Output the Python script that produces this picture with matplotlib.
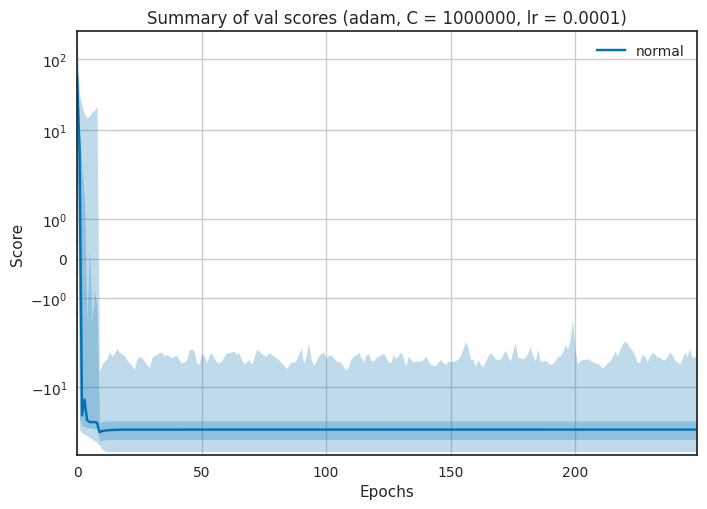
import numpy as np
import matplotlib
matplotlib.use("Agg")
import matplotlib.pyplot as plt

plt.rcParams.update({
    "font.family": "DejaVu Sans",
    "text.color": ".15",
    "axes.labelcolor": ".15",
    "axes.edgecolor": ".15",
    "axes.linewidth": 1.25,
    "xtick.color": ".15",
    "ytick.color": ".15",
    "xtick.major.size": 0,
    "ytick.major.size": 0,
    "xtick.minor.size": 0,
    "ytick.minor.size": 0,
    "xtick.major.pad": 7,
    "ytick.major.pad": 7,
    "xtick.labelsize": 10,
    "ytick.labelsize": 10,
    "axes.labelsize": 11,
    "axes.titlesize": 12,
    "legend.fontsize": 10,
    "grid.color": ".8",
    "grid.linewidth": 1,
})

color = "#0173b2"
epochs = np.arange(250)

# upper edge of the light band (max over runs)
outer_hi = [
    160, 32, 22, 17, 15, 16, 18, 19, 22, -5.93,
    -4.77, -4.28, -3.97, -3.20, -3.64, -3.34, -2.84, -3.20, -3.38, -3.56,
    -4.15, -4.52, -4.93, -5.61, -4.06, -3.64, -3.85, -4.28, -4.77, -5.32,
    -3.85, -3.56, -3.45, -3.27, -3.20, -3.64, -3.45, -3.64, -3.85, -3.64,
    -3.56, -4.15, -4.52, -4.42, -4.06, -3.00, -2.87, -3.10, -4.52, -4.77,
    -3.34, -3.56, -4.52, -3.56, -3.27, -3.85, -4.42, -4.52, -4.28, -3.72,
    -3.27, -3.27, -3.20, -3.10, -3.45, -3.27, -3.97, -4.77, -4.42, -4.06,
    -4.77, -3.85, -2.93, -3.06, -3.34, -3.56, -3.56, -3.27, -3.45, -3.64,
    -3.85, -4.15, -4.52, -4.93, -5.49, -4.93, -4.37, -4.52, -4.15, -3.45,
    -2.78, -4.62, -3.56, -2.36, -4.06, -4.93, -4.28, -3.64, -3.34, -3.20,
    -3.97, -3.52, -3.56, -3.85, -4.28, -4.37, -4.52, -5.15, -5.74, -5.04,
    -3.97, -3.64, -3.49, -3.20, -3.76, -4.42, -3.56, -3.34, -4.15, -4.28,
    -3.85, -3.64, -3.49, -3.34, -3.72, -4.42, -4.52, -3.45, -3.97, -3.56,
    -3.20, -3.85, -5.04, -3.64, -4.06, -4.42, -4.28, -4.28, -4.28, -4.06,
    -3.64, -4.28, -4.77, -4.93, -4.93, -4.42, -4.06, -4.52, -4.77, -4.28,
    -4.42, -4.28, -4.24, -3.97, -3.56, -2.87, -2.26, -2.78, -4.06, -4.06,
    -5.04, -4.06, -4.77, -5.15, -4.28, -3.64, -3.27, -3.56, -3.97, -4.06,
    -4.01, -3.45, -3.00, -3.72, -4.28, -3.10, -2.36, -3.85, -3.85, -3.97,
    -3.72, -3.27, -2.69, -3.56, -4.28, -2.87, -4.28, -4.28, -4.19, -4.42,
    -4.77, -4.62, -4.28, -3.64, -3.64, -3.20, -2.50, -2.87, -2.12, -1.54,
    -3.10, -4.62, -4.19, -4.06, -4.06, -3.97, -4.19, -4.37, -4.52, -4.62,
    -4.93, -5.38, -4.93, -4.52, -4.28, -3.72, -3.10, -3.64, -2.93, -2.44,
    -2.24, -2.41, -2.78, -3.03, -3.56, -4.52, -4.42, -3.41, -3.72, -4.42,
    -3.64, -3.20, -3.45, -3.76, -3.76, -4.06, -4.15, -3.64, -3.20, -3.49,
    -4.15, -4.37, -4.77, -3.97, -3.20, -3.64, -2.87, -3.85, -3.64, -3.85,
]

# lower edge of the light band (min over runs)
outer_lo = [
    30, -40, -44, -46, -48, -51, -54, -57, -60, -66,
    -75, -79, -81, -81, -81, -81, -81, -81, -81, -81,
    -81, -81, -81, -81, -81, -81, -81, -81, -81, -81,
    -81, -81, -81, -81, -81, -81, -81, -81, -81, -81,
    -81, -81, -81, -81, -81, -81, -81, -81, -81, -81,
    -81, -81, -81, -81, -81, -81, -81, -81, -81, -81,
    -81, -81, -81, -81, -81, -81, -81, -81, -81, -81,
    -81, -81, -81, -81, -81, -81, -81, -81, -81, -81,
    -81, -81, -81, -81, -81, -81, -81, -81, -81, -81,
    -81, -81, -81, -81, -81, -81, -81, -81, -81, -81,
    -81, -81, -81, -81, -81, -81, -81, -81, -81, -81,
    -81, -81, -81, -81, -81, -81, -81, -81, -81, -81,
    -81, -81, -81, -81, -81, -81, -81, -81, -81, -81,
    -81, -81, -81, -81, -81, -81, -81, -81, -81, -81,
    -81, -81, -81, -81, -81, -81, -81, -81, -81, -81,
    -81, -81, -81, -81, -81, -81, -81, -81, -81, -81,
    -81, -81, -81, -81, -81, -81, -81, -81, -81, -81,
    -81, -81, -81, -81, -81, -81, -81, -81, -81, -81,
    -81, -81, -81, -81, -81, -81, -81, -81, -81, -81,
    -81, -81, -81, -81, -81, -81, -81, -81, -81, -81,
    -81, -81, -81, -81, -81, -81, -81, -81, -81, -81,
    -81, -81, -81, -81, -81, -81, -81, -81, -81, -81,
    -81, -81, -81, -81, -81, -81, -81, -81, -81, -81,
    -81, -81, -81, -81, -81, -81, -81, -81, -81, -81,
    -81, -81, -81, -81, -81, -81, -81, -81, -81, -81,
]

# darker band (mean +/- std)
inner_hi = [
    75, 10, 3, 1.5, -1.6, 0.3, -1.6, -0.8, -1.2, -31.5,
    -30.5, -30.2, -30, -30, -30, -30, -30, -30, -30, -30,
    -30, -30, -30, -30, -30, -30, -30, -30, -30, -30,
    -30, -30, -30, -30, -30, -30, -30, -30, -30, -30,
    -30, -30, -30, -30, -30, -30, -30, -30, -30, -30,
    -30, -30, -30, -30, -30, -30, -30, -30, -30, -30,
    -30, -30, -30, -30, -30, -30, -30, -30, -30, -30,
    -30, -30, -30, -30, -30, -30, -30, -30, -30, -30,
    -30, -30, -30, -30, -30, -30, -30, -30, -30, -30,
    -30, -30, -30, -30, -30, -30, -30, -30, -30, -30,
    -30, -30, -30, -30, -30, -30, -30, -30, -30, -30,
    -30, -30, -30, -30, -30, -30, -30, -30, -30, -30,
    -30, -30, -30, -30, -30, -30, -30, -30, -30, -30,
    -30, -30, -30, -30, -30, -30, -30, -30, -30, -30,
    -30, -30, -30, -30, -30, -30, -30, -30, -30, -30,
    -30, -30, -30, -30, -30, -30, -30, -30, -30, -30,
    -30, -30, -30, -30, -30, -30, -30, -30, -30, -30,
    -30, -30, -30, -30, -30, -30, -30, -30, -30, -30,
    -30, -30, -30, -30, -30, -30, -30, -30, -30, -30,
    -30, -30, -30, -30, -30, -30, -30, -30, -30, -30,
    -30, -30, -30, -30, -30, -30, -30, -30, -30, -30,
    -30, -30, -30, -30, -30, -30, -30, -30, -30, -30,
    -30, -30, -30, -30, -30, -30, -30, -30, -30, -30,
    -30, -30, -30, -30, -30, -30, -30, -30, -30, -30,
    -30, -30, -30, -30, -30, -30, -30, -30, -30, -30,
]

inner_lo = [
    40, -28, -35, -36, -37, -37, -38, -38, -39, -57,
    -56, -55.5, -55, -55, -54.5, -54.5, -54.5, -54.5, -54.5, -54.5,
    -54.5, -54.5, -54.5, -54.5, -54.5, -54.5, -54.5, -54.5, -54.5, -54.5,
    -54.5, -54.5, -54.5, -54.5, -54.5, -54.5, -54.5, -54.5, -54.5, -54.5,
    -54.5, -54.5, -54.5, -54.5, -54.5, -54.5, -54.5, -54.5, -54.5, -54.5,
    -54.5, -54.5, -54.5, -54.5, -54.5, -54.5, -54.5, -54.5, -54.5, -54.5,
    -54.5, -54.5, -54.5, -54.5, -54.5, -54.5, -54.5, -54.5, -54.5, -54.5,
    -54.5, -54.5, -54.5, -54.5, -54.5, -54.5, -54.5, -54.5, -54.5, -54.5,
    -54.5, -54.5, -54.5, -54.5, -54.5, -54.5, -54.5, -54.5, -54.5, -54.5,
    -54.5, -54.5, -54.5, -54.5, -54.5, -54.5, -54.5, -54.5, -54.5, -54.5,
    -54.5, -54.5, -54.5, -54.5, -54.5, -54.5, -54.5, -54.5, -54.5, -54.5,
    -54.5, -54.5, -54.5, -54.5, -54.5, -54.5, -54.5, -54.5, -54.5, -54.5,
    -54.5, -54.5, -54.5, -54.5, -54.5, -54.5, -54.5, -54.5, -54.5, -54.5,
    -54.5, -54.5, -54.5, -54.5, -54.5, -54.5, -54.5, -54.5, -54.5, -54.5,
    -54.5, -54.5, -54.5, -54.5, -54.5, -54.5, -54.5, -54.5, -54.5, -54.5,
    -54.5, -54.5, -54.5, -54.5, -54.5, -54.5, -54.5, -54.5, -54.5, -54.5,
    -54.5, -54.5, -54.5, -54.5, -54.5, -54.5, -54.5, -54.5, -54.5, -54.5,
    -54.5, -54.5, -54.5, -54.5, -54.5, -54.5, -54.5, -54.5, -54.5, -54.5,
    -54.5, -54.5, -54.5, -54.5, -54.5, -54.5, -54.5, -54.5, -54.5, -54.5,
    -54.5, -54.5, -54.5, -54.5, -54.5, -54.5, -54.5, -54.5, -54.5, -54.5,
    -54.5, -54.5, -54.5, -54.5, -54.5, -54.5, -54.5, -54.5, -54.5, -54.5,
    -54.5, -54.5, -54.5, -54.5, -54.5, -54.5, -54.5, -54.5, -54.5, -54.5,
    -54.5, -54.5, -54.5, -54.5, -54.5, -54.5, -54.5, -54.5, -54.5, -54.5,
    -54.5, -54.5, -54.5, -54.5, -54.5, -54.5, -54.5, -54.5, -54.5, -54.5,
    -54.5, -54.5, -54.5, -54.5, -54.5, -54.5, -54.5, -54.5, -54.5, -54.5,
]

mean_score = [
    58, 5, -25, -15, -29, -31, -31, -31, -31.5, -43,
    -41.5, -41, -40.5, -40.2, -40, -40, -39.8, -39.8, -39.6, -39.6,
    -39.5, -39.5, -39.5, -39.5, -39.5, -39.5, -39.5, -39.5, -39.5, -39.5,
    -39.5, -39.5, -39.5, -39.5, -39.5, -39.5, -39.5, -39.5, -39.5, -39.5,
    -39.5, -39.5, -39.5, -39.5, -39.5, -39.5, -39.5, -39.5, -39.5, -39.5,
    -39.5, -39.5, -39.5, -39.5, -39.5, -39.5, -39.5, -39.5, -39.5, -39.5,
    -39.5, -39.5, -39.5, -39.5, -39.5, -39.5, -39.5, -39.5, -39.5, -39.5,
    -39.5, -39.5, -39.5, -39.5, -39.5, -39.5, -39.5, -39.5, -39.5, -39.5,
    -39.5, -39.5, -39.5, -39.5, -39.5, -39.5, -39.5, -39.5, -39.5, -39.5,
    -39.5, -39.5, -39.5, -39.5, -39.5, -39.5, -39.5, -39.5, -39.5, -39.5,
    -39.5, -39.5, -39.5, -39.5, -39.5, -39.5, -39.5, -39.5, -39.5, -39.5,
    -39.5, -39.5, -39.5, -39.5, -39.5, -39.5, -39.5, -39.5, -39.5, -39.5,
    -39.5, -39.5, -39.5, -39.5, -39.5, -39.5, -39.5, -39.5, -39.5, -39.5,
    -39.5, -39.5, -39.5, -39.5, -39.5, -39.5, -39.5, -39.5, -39.5, -39.5,
    -39.5, -39.5, -39.5, -39.5, -39.5, -39.5, -39.5, -39.5, -39.5, -39.5,
    -39.5, -39.5, -39.5, -39.5, -39.5, -39.5, -39.5, -39.5, -39.5, -39.5,
    -39.5, -39.5, -39.5, -39.5, -39.5, -39.5, -39.5, -39.5, -39.5, -39.5,
    -39.5, -39.5, -39.5, -39.5, -39.5, -39.5, -39.5, -39.5, -39.5, -39.5,
    -39.5, -39.5, -39.5, -39.5, -39.5, -39.5, -39.5, -39.5, -39.5, -39.5,
    -39.5, -39.5, -39.5, -39.5, -39.5, -39.5, -39.5, -39.5, -39.5, -39.5,
    -39.5, -39.5, -39.5, -39.5, -39.5, -39.5, -39.5, -39.5, -39.5, -39.5,
    -39.5, -39.5, -39.5, -39.5, -39.5, -39.5, -39.5, -39.5, -39.5, -39.5,
    -39.5, -39.5, -39.5, -39.5, -39.5, -39.5, -39.5, -39.5, -39.5, -39.5,
    -39.5, -39.5, -39.5, -39.5, -39.5, -39.5, -39.5, -39.5, -39.5, -39.5,
    -39.5, -39.5, -39.5, -39.5, -39.5, -39.5, -39.5, -39.5, -39.5, -39.5,
]

fig, ax = plt.subplots(figsize=(7.07, 5.10), dpi=100)
fig.subplots_adjust(left=0.109, right=0.986, top=0.937, bottom=0.106)

ax.fill_between(epochs, outer_lo, outer_hi, color=color, alpha=0.25, linewidth=0)
ax.fill_between(epochs, inner_lo, inner_hi, color=color, alpha=0.25, linewidth=0)
ax.plot(epochs, mean_score, color=color, lw=1.75, label="normal")

ax.set_yscale("symlog", linthresh=2)
ax.set_xlim(0, 249)
ax.set_ylim(-90, 249)
ax.grid(True)
ax.set_axisbelow(True)

ax.set_title("Summary of val scores (adam, C = 1000000, lr = 0.0001)")
ax.set_xlabel("Epochs")
ax.set_ylabel("Score")
ax.legend(loc="upper right", frameon=False)

plt.savefig("out.png", dpi=100)
